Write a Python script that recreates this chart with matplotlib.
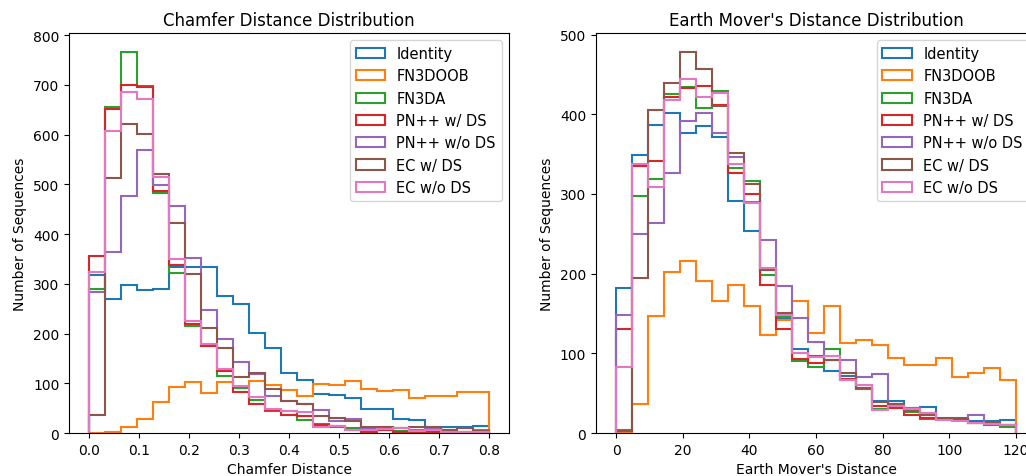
import numpy as np
import matplotlib
matplotlib.use("Agg")
import matplotlib.pyplot as plt

labels = ["Identity", "FN3DOOB", "FN3DA", "PN++ w/ DS", "PN++ w/o DS", "EC w/ DS", "EC w/o DS"]

# counts per bin, 25 bins over [0, 0.8]
cd_identity = [318, 270, 297, 287, 289, 333, 333, 333, 276, 259, 201, 170, 120, 106, 79, 77, 71, 48, 48, 29, 27, 13, 13, 13, 15]
cd_fn3doob = [1, 3, 12, 29, 62, 92, 102, 80, 102, 92, 104, 96, 86, 74, 99, 96, 104, 89, 85, 87, 71, 75, 75, 82, 82]
cd_fn3da = [290, 656, 766, 697, 483, 322, 215, 177, 114, 90, 66, 45, 45, 26, 18, 13, 10, 7, 7, 5, 3, 3, 2, 2, 2]
cd_pn_ds = [355, 652, 700, 695, 486, 337, 220, 174, 125, 83, 58, 47, 36, 35, 17, 15, 7, 2, 7, 3, 2, 3, 2, 3, 2]
cd_pn_nods = [284, 363, 476, 569, 498, 456, 351, 247, 190, 142, 118, 75, 64, 59, 46, 25, 29, 10, 8, 10, 7, 10, 7, 3, 7]
cd_ec_ds = [36, 512, 622, 601, 520, 422, 320, 211, 171, 112, 121, 89, 65, 58, 35, 30, 24, 13, 13, 10, 12, 13, 7, 11, 5]
cd_ec_nods = [324, 607, 686, 671, 514, 349, 225, 179, 128, 95, 72, 48, 45, 42, 12, 15, 7, 7, 9, 11, 5, 7, 2, 2, 2]

# counts per bin, 25 bins over [0, 120]
emd_identity = [182, 349, 386, 402, 376, 385, 371, 291, 253, 205, 144, 106, 96, 78, 72, 55, 40, 40, 31, 33, 19, 19, 15, 15, 16]
emd_fn3doob = [0, 37, 147, 202, 216, 191, 166, 186, 159, 123, 142, 166, 126, 159, 113, 117, 110, 94, 85, 85, 94, 70, 75, 81, 66]
emd_fn3da = [4, 298, 319, 425, 434, 408, 429, 333, 316, 198, 145, 90, 83, 106, 66, 55, 30, 33, 27, 17, 17, 16, 12, 10, 8]
emd_pn_ds = [130, 335, 341, 421, 433, 435, 411, 326, 300, 186, 130, 93, 88, 92, 68, 56, 34, 32, 23, 19, 17, 16, 12, 12, 10]
emd_pn_nods = [148, 250, 264, 326, 392, 401, 377, 346, 290, 242, 184, 144, 114, 92, 91, 70, 74, 37, 31, 25, 17, 17, 23, 13, 10]
emd_ec_ds = [2, 194, 405, 439, 478, 457, 410, 351, 313, 204, 150, 100, 97, 92, 75, 56, 39, 36, 28, 22, 17, 18, 12, 12, 10]
emd_ec_nods = [83, 337, 309, 418, 444, 421, 427, 337, 288, 207, 148, 100, 95, 97, 66, 60, 29, 34, 30, 25, 16, 15, 12, 11, 10]

cd_series = [cd_identity, cd_fn3doob, cd_fn3da, cd_pn_ds, cd_pn_nods, cd_ec_ds, cd_ec_nods]
emd_series = [emd_identity, emd_fn3doob, emd_fn3da, emd_pn_ds, emd_pn_nods, emd_ec_ds, emd_ec_nods]

cd_bins = np.linspace(0, 0.8, 26)
emd_bins = np.linspace(0, 120, 26)

plt.rcParams['font.size'] = 10.5

fig = plt.figure(figsize=(10.26, 4.77), dpi=100)
ax1 = fig.add_axes([0.0673, 0.0901, 0.4288, 0.8386])
ax2 = fig.add_axes([0.5809, 0.0901, 0.4288, 0.8386])

# left: chamfer distance
centers = (cd_bins[:-1] + cd_bins[1:]) / 2
for counts, name in zip(cd_series, labels):
    ax1.hist(centers, bins=cd_bins, weights=counts, histtype='step', linewidth=1.5, label=name)
ax1.set_title('Chamfer Distance Distribution', fontsize=12)
ax1.set_xlabel('Chamfer Distance', fontsize=10)
ax1.set_ylabel('Number of Sequences', fontsize=10)
ax1.tick_params(labelsize=10)
ax1.legend(loc='upper right')

# right: earth mover's distance
centers = (emd_bins[:-1] + emd_bins[1:]) / 2
for counts, name in zip(emd_series, labels):
    ax2.hist(centers, bins=emd_bins, weights=counts, histtype='step', linewidth=1.5, label=name)
ax2.set_title("Earth Mover's Distance Distribution", fontsize=12)
ax2.set_xlabel("Earth Mover's Distance", fontsize=10)
ax2.set_ylabel('Number of Sequences', fontsize=10)
ax2.tick_params(labelsize=10)
ax2.legend(loc='upper right')

fig.savefig('out.png', dpi=100)
